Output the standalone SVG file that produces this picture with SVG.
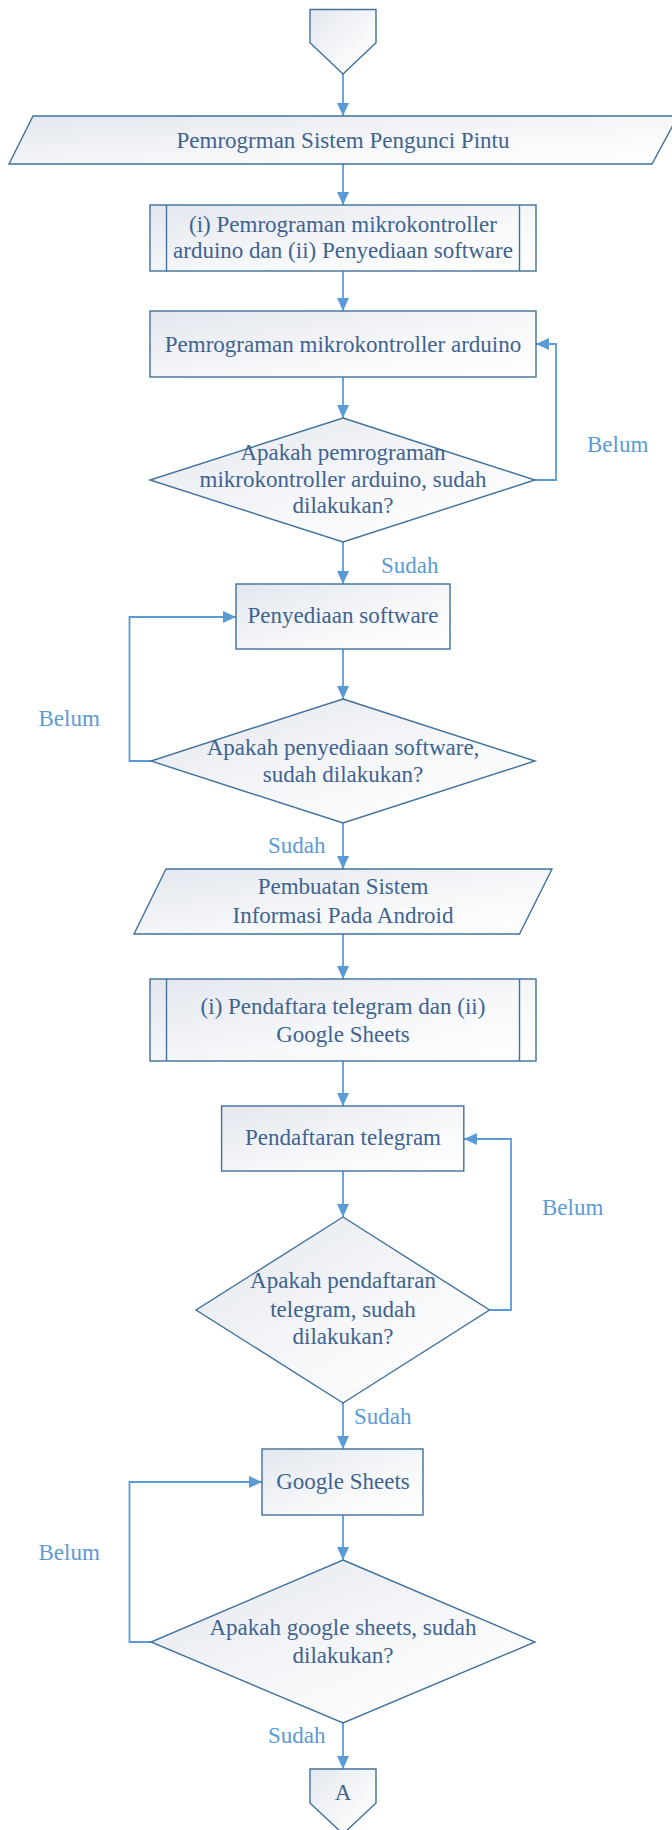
<svg xmlns="http://www.w3.org/2000/svg" width="672" height="1830" viewBox="0 0 672 1830">
<defs>
<linearGradient id="fill" x1="0" y1="0" x2="1" y2="1">
<stop offset="0" stop-color="#E3E7EE"/>
<stop offset="0.6" stop-color="#F7F8FA"/>
<stop offset="1" stop-color="#FFFFFF"/>
</linearGradient>
<marker id="ah" viewBox="0 0 13 12" refX="13" refY="6" markerWidth="13" markerHeight="12" markerUnits="userSpaceOnUse" orient="auto">
<path d="M0,0 L13,6 L0,12 z" fill="#5B9BD5"/>
</marker>
<style>
.shape{fill:url(#fill);stroke:#41719C;stroke-width:1.4}
.line{fill:none;stroke:#41719C;stroke-width:1.4}
.t{font-family:"Liberation Serif","Times New Roman",serif;font-size:23px;fill:#3E6391;text-anchor:middle}
.lbl{font-family:"Liberation Serif","Times New Roman",serif;font-size:23px;fill:#5B9BD5}
.c{fill:none;stroke:#5B9BD5;stroke-width:1.8;marker-end:url(#ah)}
</style>
</defs>
<g id="connectors">
<line class="c" x1="343" y1="74" x2="343" y2="116"/>
<line class="c" x1="343" y1="164" x2="343" y2="205"/>
<line class="c" x1="343" y1="271" x2="343" y2="311"/>
<line class="c" x1="343" y1="377" x2="343" y2="418"/>
<polyline class="c" points="535,480 556,480 556,344 536,344"/>
<line class="c" x1="343" y1="542" x2="343" y2="584"/>
<line class="c" x1="343" y1="649" x2="343" y2="699"/>
<polyline class="c" points="151,761 129.5,761 129.5,617 236,617"/>
<line class="c" x1="343" y1="823" x2="343" y2="869"/>
<line class="c" x1="343" y1="934" x2="343" y2="979"/>
<line class="c" x1="343" y1="1061" x2="343" y2="1106"/>
<line class="c" x1="343" y1="1171" x2="343" y2="1217"/>
<polyline class="c" points="489.5,1310 511,1310 511,1139 464,1139"/>
<line class="c" x1="343" y1="1403" x2="343" y2="1449"/>
<polyline class="c" points="151,1642 129.5,1642 129.5,1482 262,1482"/>
<line class="c" x1="343" y1="1515" x2="343" y2="1560"/>
<line class="c" x1="343" y1="1723" x2="343" y2="1769"/>
<text class="lbl" x="587" y="452">Belum</text>
<text class="lbl" x="381" y="573">Sudah</text>
<text class="lbl" x="38.5" y="726">Belum</text>
<text class="lbl" x="268" y="853">Sudah</text>
<text class="lbl" x="542" y="1215">Belum</text>
<text class="lbl" x="354" y="1424">Sudah</text>
<text class="lbl" x="38.5" y="1560">Belum</text>
<text class="lbl" x="268" y="1743">Sudah</text>
</g>
<g id="start">
<polygon class="shape" points="310,9.5 376,9.5 376,42.7 343,74 310,42.7"/>
</g>
<g id="para1">
<polygon class="shape" points="33,116 678,116 652,164 9,164"/>
<text class="t" x="343" y="148">Pemrogrman Sistem Pengunci Pintu</text>
</g>
<g id="sub1">
<rect class="shape" x="150" y="205" width="386" height="66"/>
<line class="line" x1="166.5" y1="205" x2="166.5" y2="271"/>
<line class="line" x1="519.5" y1="205" x2="519.5" y2="271"/>
<text class="t" x="343" y="232">(i) Pemrograman mikrokontroller</text>
<text class="t" x="343" y="258">arduino dan (ii) Penyediaan software</text>
</g>
<g id="box-arduino">
<rect class="shape" x="150" y="311" width="386" height="66"/>
<text class="t" x="343" y="352">Pemrograman mikrokontroller arduino</text>
</g>
<g id="dec-arduino">
<polygon class="shape" points="343,418 535,480 343,542 150,480"/>
<text class="t" x="343" y="460">Apakah pemrograman</text>
<text class="t" x="343" y="486.5">mikrokontroller arduino, sudah</text>
<text class="t" x="343" y="513">dilakukan?</text>
</g>
<g id="box-software">
<rect class="shape" x="236" y="584" width="214" height="65"/>
<text class="t" x="343" y="623">Penyediaan software</text>
</g>
<g id="dec-software">
<polygon class="shape" points="343,699 535,761 343,823 151,761"/>
<text class="t" x="343" y="755">Apakah penyediaan software,</text>
<text class="t" x="343" y="782">sudah dilakukan?</text>
</g>
<g id="para2">
<polygon class="shape" points="166,869 552,869 519.5,934 134,934"/>
<text class="t" x="343" y="894">Pembuatan Sistem</text>
<text class="t" x="343" y="922.5">Informasi Pada Android</text>
</g>
<g id="sub2">
<rect class="shape" x="150" y="979" width="386" height="82"/>
<line class="line" x1="166.5" y1="979" x2="166.5" y2="1061"/>
<line class="line" x1="519.5" y1="979" x2="519.5" y2="1061"/>
<text class="t" x="343" y="1014">(i) Pendaftara telegram dan (ii)</text>
<text class="t" x="343" y="1041.5">Google Sheets</text>
</g>
<g id="box-telegram">
<rect class="shape" x="221.6" y="1106" width="242.2" height="65"/>
<text class="t" x="343" y="1145">Pendaftaran telegram</text>
</g>
<g id="dec-telegram">
<polygon class="shape" points="343,1217 489.5,1310 343,1403 196,1310"/>
<text class="t" x="343" y="1288">Apakah pendaftaran</text>
<text class="t" x="343" y="1316.5">telegram, sudah</text>
<text class="t" x="343" y="1344">dilakukan?</text>
</g>
<g id="box-sheets">
<rect class="shape" x="262" y="1449" width="161" height="66"/>
<text class="t" x="343" y="1489">Google Sheets</text>
</g>
<g id="dec-sheets">
<polygon class="shape" points="343,1560 535,1642 343,1723 151,1642"/>
<text class="t" x="343" y="1635">Apakah google sheets, sudah</text>
<text class="t" x="343" y="1662.5">dilakukan?</text>
</g>
<g id="end">
<polygon class="shape" points="310,1769 376,1769 376,1803 343,1834 310,1803"/>
<text class="t" x="343" y="1800">A</text>
</g>
</svg>
